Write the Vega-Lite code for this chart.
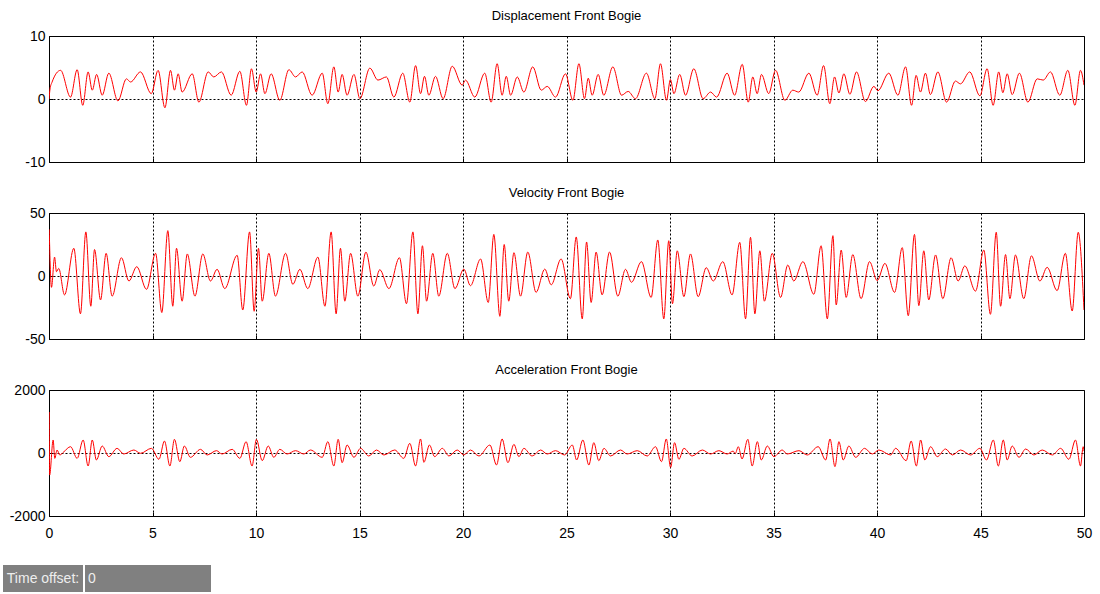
{
  "$schema": "https://vega.github.io/schema/vega-lite/v6.json",
  "background": "white",
  "padding": {"left": 3, "top": 9, "right": 4, "bottom": 0},
  "datasets": {
    "displacement": [
      {"t":0,"y":0},{"t":0.05,"y":1.6},{"t":0.15,"y":2.7},{"t":0.56,"y":4.55},{"t":1.04,"y":0.3},{"t":1.36,"y":4.65},{"t":1.63,"y":-1.0},{"t":1.89,"y":4.3},{"t":2.09,"y":1.4},{"t":2.3,"y":3.9},{"t":2.57,"y":0.6},{"t":2.89,"y":4.1},{"t":3.33,"y":-0.3},{"t":3.74,"y":3.2},{"t":3.94,"y":2.7},{"t":4.42,"y":4.3},{"t":4.94,"y":0.85},{"t":5.27,"y":4.55},{"t":5.6,"y":-1.4},{"t":5.87,"y":4.55},{"t":6.06,"y":1.4},{"t":6.24,"y":4.0},{"t":6.43,"y":1.1},{"t":6.92,"y":4.0},{"t":7.24,"y":-0.5},{"t":7.69,"y":4.3},{"t":7.96,"y":3.5},{"t":8.33,"y":4.3},{"t":8.8,"y":0.6},{"t":9.22,"y":4.4},{"t":9.54,"y":-1.0},{"t":9.78,"y":4.8},{"t":10.01,"y":1.1},{"t":10.22,"y":4.0},{"t":10.43,"y":0.85},{"t":10.73,"y":4.0},{"t":11.15,"y":-0.2},{"t":11.59,"y":4.65},{"t":11.91,"y":3.5},{"t":12.23,"y":4.3},{"t":12.71,"y":0.6},{"t":13.2,"y":4.1},{"t":13.47,"y":-0.75},{"t":13.76,"y":5.1},{"t":13.97,"y":1.1},{"t":14.16,"y":3.9},{"t":14.4,"y":0.6},{"t":14.73,"y":3.9},{"t":15.02,"y":0.05},{"t":15.5,"y":4.9},{"t":15.89,"y":3.0},{"t":16.3,"y":3.5},{"t":16.66,"y":0.3},{"t":17.09,"y":4.1},{"t":17.43,"y":-0.5},{"t":17.71,"y":5.3},{"t":17.95,"y":0.85},{"t":18.14,"y":3.6},{"t":18.35,"y":0.6},{"t":18.67,"y":3.6},{"t":19.04,"y":0.05},{"t":19.48,"y":5.2},{"t":19.96,"y":2.2},{"t":20.12,"y":3.0},{"t":20.57,"y":0.3},{"t":21.05,"y":4.1},{"t":21.36,"y":-0.5},{"t":21.65,"y":5.6},{"t":21.89,"y":0.6},{"t":22.09,"y":3.6},{"t":22.3,"y":0.6},{"t":22.62,"y":3.5},{"t":22.94,"y":1.1},{"t":23.37,"y":5.1},{"t":23.78,"y":1.4},{"t":24.07,"y":2.0},{"t":24.47,"y":0.3},{"t":24.95,"y":4.0},{"t":25.31,"y":-0.2},{"t":25.6,"y":5.6},{"t":25.87,"y":0.05},{"t":26.05,"y":3.3},{"t":26.24,"y":0.6},{"t":26.53,"y":3.9},{"t":26.8,"y":0.6},{"t":27.24,"y":5.1},{"t":27.66,"y":0.6},{"t":27.98,"y":1.2},{"t":28.33,"y":0.05},{"t":28.86,"y":4.1},{"t":29.27,"y":0.05},{"t":29.54,"y":5.6},{"t":29.83,"y":-0.2},{"t":30.02,"y":3.1},{"t":30.19,"y":0.85},{"t":30.47,"y":3.9},{"t":30.75,"y":0.6},{"t":31.15,"y":4.8},{"t":31.6,"y":0.05},{"t":31.96,"y":1.1},{"t":32.25,"y":0.3},{"t":32.76,"y":4.1},{"t":33.12,"y":0.6},{"t":33.49,"y":5.5},{"t":33.78,"y":-0.5},{"t":34.0,"y":3.5},{"t":34.21,"y":0.85},{"t":34.42,"y":3.9},{"t":34.77,"y":0.85},{"t":35.1,"y":4.55},{"t":35.55,"y":-0.2},{"t":35.93,"y":1.4},{"t":36.22,"y":1.1},{"t":36.71,"y":4.1},{"t":37.11,"y":0.6},{"t":37.42,"y":5.3},{"t":37.72,"y":-0.75},{"t":37.95,"y":3.5},{"t":38.16,"y":0.95},{"t":38.4,"y":4.0},{"t":38.69,"y":0.75},{"t":39.01,"y":4.3},{"t":39.44,"y":-0.4},{"t":39.85,"y":2.0},{"t":40.04,"y":1.3},{"t":40.57,"y":4.1},{"t":41.01,"y":0.6},{"t":41.38,"y":5.1},{"t":41.67,"y":-1.0},{"t":41.89,"y":3.75},{"t":42.1,"y":1.1},{"t":42.34,"y":4.1},{"t":42.58,"y":0.7},{"t":42.94,"y":4.3},{"t":43.36,"y":-0.5},{"t":43.79,"y":2.85},{"t":44.03,"y":2.4},{"t":44.48,"y":4.3},{"t":44.97,"y":0.5},{"t":45.32,"y":4.8},{"t":45.61,"y":-1.0},{"t":45.88,"y":4.3},{"t":46.08,"y":1.0},{"t":46.29,"y":4.0},{"t":46.53,"y":0.7},{"t":46.88,"y":4.1},{"t":47.29,"y":-0.5},{"t":47.74,"y":3.2},{"t":48.03,"y":3.0},{"t":48.38,"y":4.3},{"t":48.83,"y":0.6},{"t":49.22,"y":4.55},{"t":49.56,"y":-1.0},{"t":49.83,"y":4.55},{"t":50,"y":2.2}
    ],
    "velocity": [
      {"t":0.01,"y":37},{"t":0.12,"y":-9},{"t":0.27,"y":15},{"t":0.36,"y":3.4},{"t":0.47,"y":6},{"t":0.75,"y":-15},{"t":1.2,"y":22},{"t":1.52,"y":-30},{"t":1.78,"y":35},{"t":2.02,"y":-24},{"t":2.2,"y":21},{"t":2.49,"y":-19},{"t":2.76,"y":18},{"t":3.05,"y":-16},{"t":3.5,"y":14.5},{"t":3.86,"y":-4},{"t":4.24,"y":7.4},{"t":4.71,"y":-10.6},{"t":5.15,"y":18},{"t":5.45,"y":-29},{"t":5.74,"y":36},{"t":5.98,"y":-24},{"t":6.16,"y":22},{"t":6.43,"y":-20},{"t":6.68,"y":17.5},{"t":7.05,"y":-16},{"t":7.43,"y":17.5},{"t":7.8,"y":-4},{"t":8.12,"y":5.3},{"t":8.49,"y":-10},{"t":9.09,"y":16.4},{"t":9.36,"y":-27},{"t":9.69,"y":35},{"t":9.91,"y":-28},{"t":10.12,"y":22},{"t":10.3,"y":-20},{"t":10.62,"y":18},{"t":10.94,"y":-16},{"t":11.43,"y":18},{"t":11.78,"y":-6.6},{"t":12.12,"y":5.3},{"t":12.5,"y":-10},{"t":12.99,"y":15},{"t":13.33,"y":-24},{"t":13.63,"y":35},{"t":13.87,"y":-30},{"t":14.08,"y":22},{"t":14.29,"y":-20},{"t":14.57,"y":18},{"t":14.92,"y":-16},{"t":15.31,"y":19},{"t":15.69,"y":-8},{"t":15.98,"y":5},{"t":16.42,"y":-10},{"t":16.93,"y":14.5},{"t":17.27,"y":-22},{"t":17.58,"y":35},{"t":17.82,"y":-30},{"t":18.04,"y":24},{"t":18.24,"y":-20},{"t":18.54,"y":18},{"t":18.83,"y":-16},{"t":19.24,"y":18},{"t":19.61,"y":-10},{"t":20.04,"y":5.5},{"t":20.36,"y":-7.7},{"t":20.85,"y":13.5},{"t":21.22,"y":-21},{"t":21.49,"y":33},{"t":21.78,"y":-32},{"t":21.99,"y":25},{"t":22.21,"y":-20},{"t":22.46,"y":18.5},{"t":22.78,"y":-16},{"t":23.13,"y":19},{"t":23.53,"y":-13},{"t":23.95,"y":5.5},{"t":24.26,"y":-7},{"t":24.74,"y":13.5},{"t":25.19,"y":-18},{"t":25.47,"y":31},{"t":25.76,"y":-34},{"t":25.97,"y":27},{"t":26.19,"y":-21},{"t":26.43,"y":19},{"t":26.72,"y":-15},{"t":27.08,"y":19},{"t":27.48,"y":-16},{"t":27.85,"y":5.3},{"t":28.14,"y":-5},{"t":28.62,"y":11.4},{"t":29.09,"y":-17},{"t":29.41,"y":28.6},{"t":29.7,"y":-34},{"t":29.94,"y":28},{"t":30.12,"y":-22},{"t":30.35,"y":20},{"t":30.67,"y":-16.4},{"t":30.99,"y":17.5},{"t":31.36,"y":-16.4},{"t":31.75,"y":6.6},{"t":32.09,"y":-4},{"t":32.55,"y":11.4},{"t":33.0,"y":-15},{"t":33.37,"y":26.7},{"t":33.65,"y":-34},{"t":33.89,"y":30.7},{"t":34.1,"y":-30},{"t":34.34,"y":20},{"t":34.56,"y":-20},{"t":34.94,"y":18},{"t":35.34,"y":-17},{"t":35.69,"y":8.7},{"t":35.98,"y":-4},{"t":36.42,"y":11.4},{"t":36.95,"y":-14.5},{"t":37.3,"y":24},{"t":37.6,"y":-34},{"t":37.87,"y":32},{"t":38.03,"y":-23},{"t":38.27,"y":20.6},{"t":38.51,"y":-17},{"t":38.83,"y":17},{"t":39.23,"y":-18},{"t":39.64,"y":11.4},{"t":40.01,"y":-3.7},{"t":40.38,"y":10},{"t":40.85,"y":-13},{"t":41.22,"y":22.5},{"t":41.51,"y":-31.5},{"t":41.81,"y":33},{"t":42.02,"y":-23.5},{"t":42.26,"y":20},{"t":42.5,"y":-19},{"t":42.83,"y":16.7},{"t":43.18,"y":-18},{"t":43.58,"y":14.5},{"t":43.92,"y":-4},{"t":44.24,"y":8},{"t":44.76,"y":-12},{"t":45.16,"y":20.6},{"t":45.48,"y":-30.4},{"t":45.76,"y":34.7},{"t":45.97,"y":-24},{"t":46.21,"y":17},{"t":46.42,"y":-18},{"t":46.69,"y":16.7},{"t":47.09,"y":-18},{"t":47.46,"y":16},{"t":47.87,"y":-4},{"t":48.22,"y":6.9},{"t":48.7,"y":-11.6},{"t":49.1,"y":18},{"t":49.43,"y":-27.8},{"t":49.72,"y":34.7},{"t":50,"y":-27}
    ],
    "acceleration": [
      {"t":0.01,"y":1300},{"t":0.03,"y":-700},{"t":0.2,"y":413},{"t":0.28,"y":-170},{"t":0.39,"y":95},{"t":0.52,"y":-63},{"t":0.72,"y":40},{"t":1.04,"y":200},{"t":1.36,"y":-170},{"t":1.65,"y":413},{"t":1.89,"y":-413},{"t":2.09,"y":413},{"t":2.29,"y":-222},{"t":2.57,"y":222},{"t":2.89,"y":-116},{"t":3.29,"y":148},{"t":3.61,"y":-32},{"t":4.1,"y":95},{"t":4.42,"y":-10},{"t":4.95,"y":148},{"t":5.31,"y":-200},{"t":5.58,"y":380},{"t":5.84,"y":-413},{"t":6.06,"y":434},{"t":6.32,"y":-275},{"t":6.54,"y":222},{"t":6.83,"y":-137},{"t":7.32,"y":116},{"t":7.64,"y":-63},{"t":8.09,"y":74},{"t":8.36,"y":-32},{"t":8.85,"y":116},{"t":9.22,"y":-170},{"t":9.52,"y":360},{"t":9.81,"y":-413},{"t":10.02,"y":434},{"t":10.3,"y":-243},{"t":10.59,"y":222},{"t":10.86,"y":-137},{"t":11.15,"y":116},{"t":11.5,"y":-32},{"t":11.91,"y":74},{"t":12.31,"y":-32},{"t":12.63,"y":95},{"t":13.2,"y":-137},{"t":13.47,"y":360},{"t":13.76,"y":-413},{"t":13.97,"y":434},{"t":14.16,"y":-307},{"t":14.4,"y":254},{"t":14.73,"y":-137},{"t":15.05,"y":148},{"t":15.45,"y":-95},{"t":15.82,"y":95},{"t":16.18,"y":-63},{"t":16.7,"y":95},{"t":17.14,"y":-170},{"t":17.43,"y":307},{"t":17.71,"y":-413},{"t":17.95,"y":445},{"t":18.11,"y":-296},{"t":18.38,"y":254},{"t":18.63,"y":-116},{"t":19.0,"y":148},{"t":19.32,"y":-95},{"t":19.72,"y":95},{"t":20.04,"y":-63},{"t":20.36,"y":95},{"t":20.77,"y":-95},{"t":21.3,"y":254},{"t":21.62,"y":-381},{"t":21.89,"y":445},{"t":22.17,"y":-307},{"t":22.46,"y":275},{"t":22.7,"y":-116},{"t":22.94,"y":148},{"t":23.34,"y":-95},{"t":23.75,"y":95},{"t":24.07,"y":-32},{"t":24.47,"y":74},{"t":24.91,"y":-63},{"t":25.28,"y":254},{"t":25.49,"y":-222},{"t":25.79,"y":413},{"t":26.08,"y":-381},{"t":26.32,"y":328},{"t":26.56,"y":-243},{"t":26.81,"y":148},{"t":27.13,"y":-95},{"t":27.61,"y":95},{"t":27.93,"y":-32},{"t":28.42,"y":74},{"t":28.9,"y":-95},{"t":29.3,"y":200},{"t":29.59,"y":-275},{"t":29.82,"y":445},{"t":30.03,"y":-455},{"t":30.22,"y":328},{"t":30.43,"y":-200},{"t":30.67,"y":148},{"t":31.07,"y":-95},{"t":31.56,"y":95},{"t":31.96,"y":-32},{"t":32.36,"y":74},{"t":32.76,"y":-32},{"t":33.05,"y":60},{"t":33.15,"y":-20},{"t":33.3,"y":200},{"t":33.48,"y":-190},{"t":33.76,"y":434},{"t":33.97,"y":-413},{"t":34.22,"y":360},{"t":34.41,"y":-222},{"t":34.7,"y":222},{"t":35.02,"y":-116},{"t":35.42,"y":95},{"t":35.66,"y":-32},{"t":36.23,"y":74},{"t":36.63,"y":-63},{"t":37.16,"y":200},{"t":37.52,"y":-222},{"t":37.73,"y":445},{"t":37.97,"y":-434},{"t":38.16,"y":360},{"t":38.37,"y":-222},{"t":38.64,"y":222},{"t":38.97,"y":-137},{"t":39.4,"y":148},{"t":39.77,"y":-32},{"t":40.09,"y":95},{"t":40.66,"y":-63},{"t":40.9,"y":148},{"t":41.41,"y":-243},{"t":41.65,"y":380},{"t":41.9,"y":-413},{"t":42.11,"y":413},{"t":42.31,"y":-222},{"t":42.59,"y":200},{"t":42.91,"y":-116},{"t":43.31,"y":127},{"t":43.64,"y":-63},{"t":44.04,"y":95},{"t":44.52,"y":-63},{"t":44.97,"y":148},{"t":45.29,"y":-222},{"t":45.62,"y":413},{"t":45.86,"y":-413},{"t":46.1,"y":413},{"t":46.29,"y":-222},{"t":46.53,"y":222},{"t":46.86,"y":-137},{"t":47.18,"y":127},{"t":47.58,"y":-63},{"t":47.98,"y":95},{"t":48.47,"y":-63},{"t":48.87,"y":148},{"t":49.27,"y":-200},{"t":49.59,"y":413},{"t":49.83,"y":-413},{"t":49.96,"y":200},{"t":50,"y":60}
    ]
  },
  "config": {
    "font": "Liberation Sans",
    "view": {"stroke": "#000000", "strokeWidth": 1},
    "title": {"fontSize": 13, "fontWeight": "normal", "color": "#000000", "anchor": "middle", "offset": 6},
    "axis": {
      "title": null,
      "domain": false,
      "grid": true,
      "gridColor": "#000000",
      "gridDash": [2, 2],
      "gridOpacity": 1,
      "gridWidth": 1,
      "ticks": true,
      "tickColor": "#000000",
      "tickSize": -4,
      "labelColor": "#000000",
      "labelFontSize": 14,
      "labelFlush": false,
      "labelExpr": "'' + datum.value"
    },
    "axisY": {"labelPadding": 8, "minExtent": 44, "maxExtent": 44},
    "axisX": {"labelPadding": 14}
  },
  "columns": 1,
  "spacing": 24,
  "concat": [
    {
      "spacing": 0,
      "hconcat": [
        {
          "width": 1,
          "height": 1,
          "view": {"stroke": null},
          "data": {"values": []},
          "mark": {"type": "point", "opacity": 0}
        },
        {
          "spacing": 16,
          "vconcat": [
            {
              "title": "Displacement Front Bogie",
              "width": 1035,
              "height": 126,
              "data": {"name": "displacement"},
              "mark": {"type": "line", "color": "#ff0000", "strokeWidth": 1, "interpolate": "monotone", "clip": true},
              "encoding": {
                "x": {"field": "t", "type": "quantitative", "scale": {"domain": [0, 50], "nice": false, "zero": false}, "axis": {"values": [0, 5, 10, 15, 20, 25, 30, 35, 40, 45, 50], "labels": false, "labelPadding": 0}},
                "y": {"field": "y", "type": "quantitative", "scale": {"domain": [-10, 10], "nice": false}, "axis": {"values": [-10, 0, 10]}}
              }
            },
            {
              "title": "Velocity Front Bogie",
              "width": 1035,
              "height": 126,
              "data": {"name": "velocity"},
              "mark": {"type": "line", "color": "#ff0000", "strokeWidth": 1, "interpolate": "monotone", "clip": true},
              "encoding": {
                "x": {"field": "t", "type": "quantitative", "scale": {"domain": [0, 50], "nice": false, "zero": false}, "axis": {"values": [0, 5, 10, 15, 20, 25, 30, 35, 40, 45, 50], "labels": false, "labelPadding": 0}},
                "y": {"field": "y", "type": "quantitative", "scale": {"domain": [-50, 50], "nice": false}, "axis": {"values": [-50, 0, 50]}}
              }
            },
            {
              "title": "Acceleration Front Bogie",
              "width": 1035,
              "height": 126,
              "data": {"name": "acceleration"},
              "mark": {"type": "line", "color": "#ff0000", "strokeWidth": 1, "interpolate": "monotone", "clip": true},
              "encoding": {
                "x": {"field": "t", "type": "quantitative", "scale": {"domain": [0, 50], "nice": false, "zero": false}, "axis": {"values": [0, 5, 10, 15, 20, 25, 30, 35, 40, 45, 50]}},
                "y": {"field": "y", "type": "quantitative", "scale": {"domain": [-2000, 2000], "nice": false}, "axis": {"values": [-2000, 0, 2000]}}
              }
            }
          ]
        }
      ]
    },
    {
      "spacing": 2,
      "hconcat": [
        {
          "width": 80,
          "height": 27,
          "view": {"fill": "#808080", "stroke": null},
          "data": {"values": [{"caption": "Time offset:"}]},
          "mark": {"type": "text", "color": "#eeeeee", "fontSize": 14},
          "encoding": {"text": {"field": "caption"}}
        },
        {
          "width": 126,
          "height": 27,
          "view": {"fill": "#808080", "stroke": null},
          "data": {"values": [{"offset": 0}]},
          "mark": {"type": "text", "color": "#eeeeee", "fontSize": 14, "align": "left", "dx": -60},
          "encoding": {"text": {"field": "offset"}}
        }
      ]
    }
  ]
}
